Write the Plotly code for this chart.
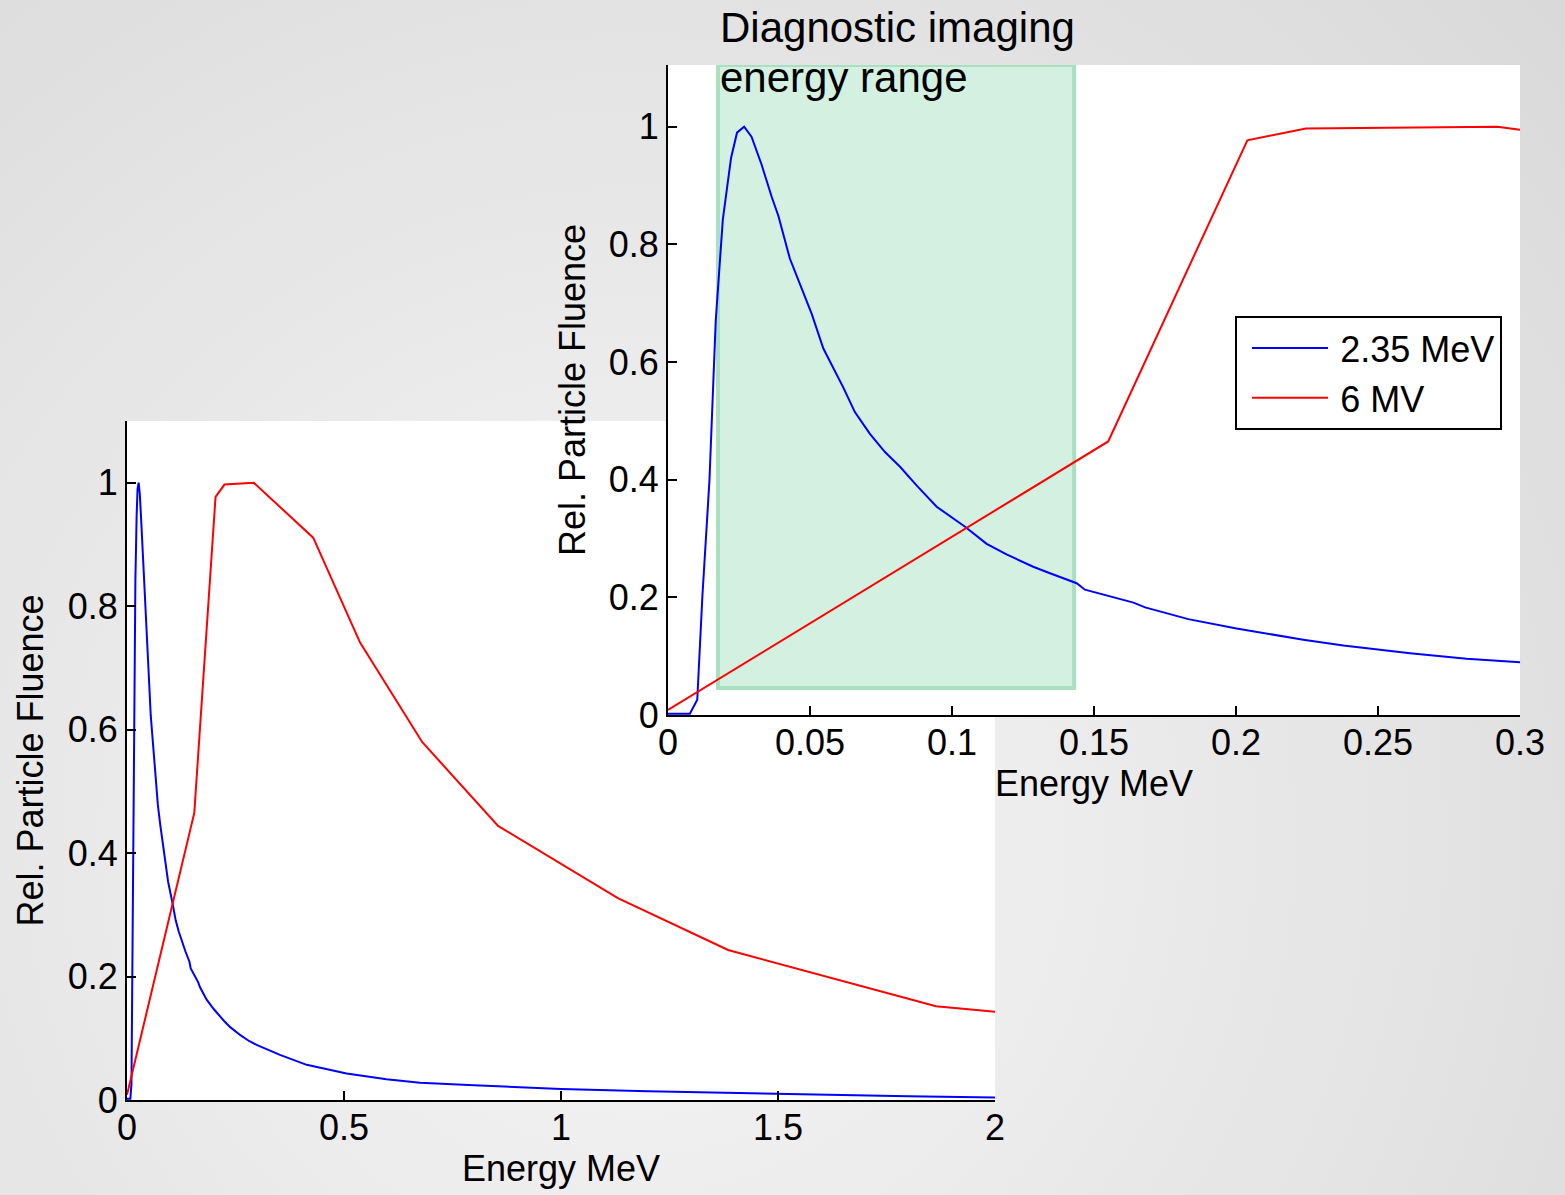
import base64
import plotly.graph_objects as go

# ---- data ----
blue_name = "2.35 MeV"
blue_energy = [0, 0.0077, 0.0103, 0.0121, 0.0146, 0.0162, 0.0168, 0.0193, 0.0222, 0.0243,
               0.0268, 0.0294, 0.0330, 0.0365, 0.0389, 0.0429, 0.0465, 0.0506, 0.0547, 0.0617,
               0.0658, 0.0711, 0.0764, 0.0817, 0.0876, 0.0946, 0.1046, 0.1122, 0.1192, 0.1286,
               0.1345, 0.1439, 0.1468, 0.1639, 0.1680, 0.1832, 0.2002, 0.2237, 0.2378, 0.2613,
               0.2812, 0.3000, 0.3525, 0.414, 0.506, 0.598, 0.675, 0.80, 1.0, 1.2,
               1.4, 1.6, 1.8, 2.0]
blue_fluence = [0.002, 0.002, 0.026, 0.201, 0.399, 0.597, 0.670, 0.842, 0.947, 0.990,
                1.000, 0.983, 0.935, 0.881, 0.848, 0.776, 0.733, 0.682, 0.623, 0.557,
                0.515, 0.478, 0.447, 0.422, 0.390, 0.354, 0.320, 0.291, 0.273, 0.252,
                0.241, 0.224, 0.213, 0.191, 0.183, 0.163, 0.147, 0.128, 0.118, 0.105,
                0.0956, 0.0888, 0.073, 0.057, 0.043, 0.0335, 0.028, 0.024, 0.018, 0.014,
                0.011, 0.008, 0.006, 0.004]

red_name = "6 MV"
red_energy = [0, 0.155, 0.204, 0.2246, 0.292, 0.429, 0.537, 0.680, 0.855, 1.131, 1.385, 1.864, 2.0]
red_fluence = [0.0085, 0.465, 0.977, 0.997, 1.0, 0.911, 0.741, 0.580, 0.444, 0.327, 0.243, 0.152, 0.143]

main_xticks = [0, 0.5, 1, 1.5, 2]
main_xticklabels = ["0", "0.5", "1", "1.5", "2"]
inset_xticks = [0, 0.05, 0.1, 0.15, 0.2, 0.25, 0.3]
inset_xticklabels = ["0", "0.05", "0.1", "0.15", "0.2", "0.25", "0.3"]
yticks = [0, 0.2, 0.4, 0.6, 0.8, 1]
yticklabels = ["0", "0.2", "0.4", "0.6", "0.8", "1"]

diag_range = [0.0176, 0.143]   # MeV
diag_fluence = [0.046, 1.105]
diag_label = ["Diagnostic imaging", "energy range"]
x_title = "Energy MeV"
y_title = "Rel. Particle Fluence"

# ---- layout geometry ----
W, H = 1565, 1195
FONT = "Liberation Sans, Arial, sans-serif"

def px_dom_x(a, b):
    return [a / W, b / W]

def px_dom_y(top, bottom):
    return [(H - bottom) / H, (H - top) / H]

main_xdom = px_dom_x(127, 995)
main_ydom = px_dom_y(421, 1100)
inset_xdom = px_dom_x(668, 1520)
inset_ydom = px_dom_y(65, 715)

# background radial gradient (decoration)
svg = f'''<svg xmlns="http://www.w3.org/2000/svg" width="{W}" height="{H}" viewBox="0 0 {W} {H}" preserveAspectRatio="none">
<defs><radialGradient id="g" gradientUnits="userSpaceOnUse" cx="640" cy="840" r="1250">
<stop offset="0" stop-color="#f6f6f6"/><stop offset="1" stop-color="#d9d9d9"/></radialGradient></defs>
<rect x="0" y="0" width="{W}" height="{H}" fill="url(#g)"/></svg>'''
bg_src = "data:image/svg+xml;base64," + base64.b64encode(svg.encode()).decode()

fig = go.Figure()

# main plot
fig.add_trace(go.Scatter(x=blue_energy, y=blue_fluence, mode="lines", name=blue_name,
                         line=dict(color="#0000ff", width=2), showlegend=False,
                         xaxis="x", yaxis="y"))
fig.add_trace(go.Scatter(x=red_energy, y=red_fluence, mode="lines", name=red_name,
                         line=dict(color="#ff0000", width=2), showlegend=False,
                         xaxis="x", yaxis="y"))
# inset plot
fig.add_trace(go.Scatter(x=blue_energy, y=blue_fluence, mode="lines", name="\u2009" + blue_name,
                         line=dict(color="#0000ff", width=2), xaxis="x2", yaxis="y2"))
fig.add_trace(go.Scatter(x=red_energy, y=red_fluence, mode="lines", name="\u2009" + red_name,
                         line=dict(color="#ff0000", width=2), xaxis="x2", yaxis="y2"))

axis_common = dict(showline=True, linecolor="black", linewidth=2, ticks="inside",
                   ticklen=9, tickwidth=2, tickcolor="black", showgrid=False,
                   zeroline=False, mirror=False, automargin=False,
                   tickfont=dict(family=FONT, size=36, color="black"))

fig.update_layout(
    width=W, height=H,
    margin=dict(l=0, r=0, t=0, b=0, autoexpand=False),
    paper_bgcolor="#e4e4e4",
    plot_bgcolor="rgba(0,0,0,0)",
    font=dict(family=FONT, size=36, color="black"),
    xaxis=dict(domain=main_xdom, range=[0, 2], tickvals=main_xticks, ticktext=main_xticklabels,
               anchor="y", ticklabelstandoff=-5,
               title=dict(text=x_title, font=dict(size=36), standoff=4), **axis_common),
    yaxis=dict(domain=main_ydom, range=[0, 1.1], tickvals=yticks, ticktext=yticklabels,
               anchor="x", title=dict(text=y_title, font=dict(size=36), standoff=13), **axis_common),
    xaxis2=dict(domain=inset_xdom, range=[0, 0.3], tickvals=inset_xticks, ticktext=inset_xticklabels,
                anchor="y2", ticklabelstandoff=-5,
                title=dict(text=x_title, font=dict(size=36), standoff=4), **axis_common),
    yaxis2=dict(domain=inset_ydom, range=[0, 1.105], tickvals=yticks, ticktext=yticklabels,
                anchor="x2", title=dict(text=y_title, font=dict(size=36), standoff=12), **axis_common),
    legend=dict(x=1235 / W, y=(H - 316) / H, xanchor="left", yanchor="top",
                bgcolor="white", bordercolor="black", borderwidth=2,
                font=dict(family=FONT, size=36, color="black"), itemwidth=76,
                indentation=10, tracegroupgap=0),
    images=[dict(source=bg_src, xref="paper", yref="paper", x=0, y=1, sizex=1, sizey=1,
                 xanchor="left", yanchor="top", sizing="stretch", layer="below")],
    shapes=[
        dict(type="rect", xref="x domain", yref="y domain", x0=0, x1=1, y0=0, y1=1,
             fillcolor="white", line=dict(width=0), layer="below"),
        dict(type="rect", xref="x2 domain", yref="y2 domain", x0=0, x1=1, y0=0, y1=1,
             fillcolor="white", line=dict(width=0), layer="below"),
        dict(type="rect", xref="x2", yref="y2", x0=diag_range[0], x1=diag_range[1],
             y0=diag_fluence[0], y1=diag_fluence[1],
             fillcolor="rgba(212,240,224,1)", line=dict(color="rgb(168,224,192)", width=4),
             layer="below"),
    ],
    annotations=[
        dict(text=diag_label[0], xref="x2", yref="paper", x=diag_range[0], y=(H - 2) / H,
             xanchor="left", yanchor="top", showarrow=False,
             font=dict(family=FONT, size=42, color="black")),
        dict(text=diag_label[1], xref="x2", yref="paper", x=diag_range[0], y=(H - 52) / H,
             xanchor="left", yanchor="top", showarrow=False,
             font=dict(family=FONT, size=42, color="black")),
    ],
)

fig.write_html("out.html")
